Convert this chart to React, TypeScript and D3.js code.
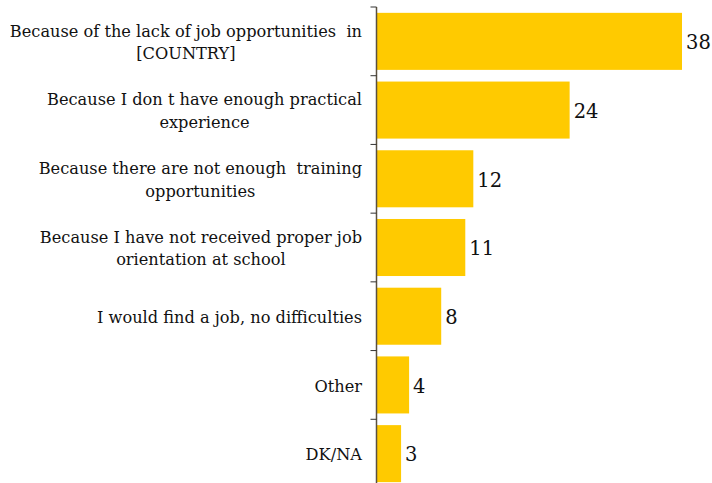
import { useEffect, useRef } from 'react';
import * as d3 from 'd3';

const categories = [
  ['Because of the lack of job opportunities  in', '[COUNTRY]'],
  ['Because I don t have enough practical', 'experience'],
  ['Because there are not enough  training', 'opportunities'],
  ['Because I have not received proper job', 'orientation at school'],
  ['I would find a job, no difficulties'],
  ['Other'],
  ['DK/NA'],
];
const values = [38, 24, 12, 11, 8, 4, 3];

export default function App() {
  const ref = useRef<SVGSVGElement>(null);

  useEffect(() => {
    const svg = d3.select(ref.current);
    svg.selectAll('*').remove();

    const width = 712;
    const height = 483;
    const axisX = 376.5;
    const labelRight = 362;

    const y = d3
      .scaleBand<number>()
      .domain(d3.range(values.length))
      .range([7, 488])
      .paddingInner(0.17)
      .paddingOuter(0.085);

    const x = d3.scaleLinear().domain([0, 38]).range([377, 682]);

    // bars
    svg
      .append('g')
      .selectAll('rect')
      .data(values)
      .join('rect')
      .attr('x', x(0))
      .attr('y', (_, i) => y(i)!)
      .attr('width', (d) => x(d) - x(0))
      .attr('height', y.bandwidth())
      .attr('fill', '#FFCA00');

    // value labels
    svg
      .append('g')
      .selectAll('text')
      .data(values)
      .join('text')
      .attr('x', (d) => x(d) + 4)
      .attr('y', (_, i) => y(i)! + y.bandwidth() / 2 + 1)
      .attr('dy', '0.35em')
      .attr('font-family', '"DejaVu Serif", serif')
      .attr('font-size', 19.5)
      .attr('fill', '#111')
      .text((d) => d);

    // axis with ticks at band boundaries
    const step = y.step();
    const start = 7;
    const axis = svg.append('g');
    axis
      .append('line')
      .attr('x1', axisX)
      .attr('x2', axisX)
      .attr('y1', start)
      .attr('y2', height)
      .attr('stroke', '#5a5040')
      .attr('stroke-width', 1.5);
    axis
      .selectAll('line.tick')
      .data(d3.range(values.length))
      .join('line')
      .attr('class', 'tick')
      .attr('x1', axisX - 6)
      .attr('x2', axisX)
      .attr('y1', (i) => start + i * step)
      .attr('y2', (i) => start + i * step)
      .attr('stroke', '#333')
      .attr('stroke-width', 1);

    // category labels, lines centered within block right-aligned at labelRight
    const lineH = 22.5;
    categories.forEach((lines, i) => {
      const g = svg.append('g');
      const cy = y(i)! + y.bandwidth() / 2 + 1;
      const texts = lines.map((t, j) =>
        g
          .append('text')
          .attr('y', cy + (j - (lines.length - 1) / 2) * lineH)
          .attr('dy', '0.35em')
          .attr('text-anchor', 'middle')
          .attr('font-family', '"DejaVu Serif", serif')
          .attr('font-size', 16.2)
          .attr('fill', '#111')
          .style('white-space', 'pre')
          .text(t)
      );
      const maxW = d3.max(texts, (t) => (t.node() as SVGTextElement).getComputedTextLength()) || 0;
      texts.forEach((t) => t.attr('x', labelRight - maxW / 2));
    });

    svg.attr('width', width).attr('height', height);
  }, []);

  return (
    <svg
      ref={ref}
      width={712}
      height={483}
      style={{ position: 'absolute', left: 0, top: 0, background: '#fff' }}
    ></svg>
  );
}
